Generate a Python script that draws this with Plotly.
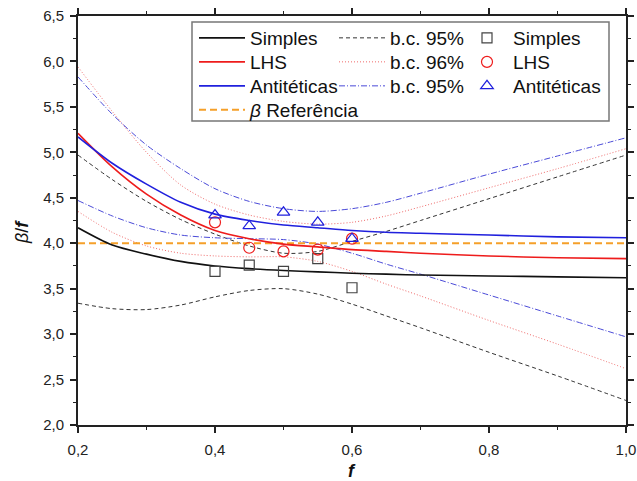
import plotly.graph_objects as go

# Abscissa grid for fitted curves and confidence bounds
F_CURVE = [0.2, 0.25, 0.3, 0.35, 0.4, 0.45, 0.5, 0.55, 0.6, 0.65, 0.7, 0.8, 0.9, 1.0]

# Fitted curves beta/f
SIMPLES_FIT = [4.17, 3.98, 3.88, 3.80, 3.75, 3.72, 3.70, 3.685, 3.67, 3.66, 3.65, 3.64, 3.63, 3.62]
LHS_FIT = [5.21, 4.84, 4.54, 4.31, 4.14, 4.05, 3.99, 3.96, 3.93, 3.91, 3.89, 3.86, 3.84, 3.83]
ANTI_FIT = [5.17, 4.88, 4.65, 4.45, 4.32, 4.25, 4.20, 4.17, 4.14, 4.12, 4.11, 4.09, 4.07, 4.06]

# Confidence bounds (upper / lower)
SIMPLES_UP = [4.97, 4.70, 4.46, 4.26, 4.10, 3.97, 3.89, 3.91, 4.02, 4.13, 4.25, 4.49, 4.73, 4.97]
SIMPLES_LO = [3.34, 3.28, 3.27, 3.32, 3.41, 3.48, 3.50, 3.44, 3.33, 3.20, 3.07, 2.80, 2.54, 2.27]
LHS_UP = [5.94, 5.45, 5.00, 4.64, 4.43, 4.31, 4.24, 4.21, 4.23, 4.30, 4.40, 4.61, 4.82, 5.04]
LHS_LO = [4.35, 4.12, 3.97, 3.89, 3.86, 3.85, 3.85, 3.80, 3.69, 3.55, 3.42, 3.15, 2.89, 2.62]
ANTI_UP = [5.83, 5.42, 5.08, 4.82, 4.60, 4.46, 4.38, 4.35, 4.38, 4.45, 4.55, 4.76, 4.96, 5.16]
ANTI_LO = [4.47, 4.30, 4.17, 4.09, 4.06, 4.05, 4.04, 3.99, 3.89, 3.77, 3.66, 3.43, 3.20, 2.97]

# Sampled points
F_PTS = [0.4, 0.45, 0.5, 0.55, 0.6]
SIMPLES_PTS = [3.69, 3.76, 3.69, 3.83, 3.51]
LHS_PTS = [4.23, 3.95, 3.91, 3.93, 4.05]
ANTI_PTS = [4.31, 4.19, 4.34, 4.23, 4.05]

# Reference value
BETA_REF = 4.0
F_RANGE = [0.2, 1.0]

BLACK = "#111111"
RED = "#ee1c1c"
BLUE = "#2020dd"
ORANGE = "#f5a02a"
FONT = "Liberation Sans"

W, H = 637, 481
M_L, M_R, M_T, M_B = 78, 11, 16, 56
PW, PH = W - M_L - M_R, H - M_T - M_B


def px_x(p):
    return (p - M_L) / PW


def px_y(p):
    return (H - M_B - p) / PH


# Legend grid: column left edges and row centres, in pixels
LEG_COLS = [194, 334, 461]
LEG_ROWS = [38, 62, 86, 110]
LEG_ITEM_W = [46, 46, 42]

fig = go.Figure()
legend_layout = {}
legend_font = dict(family=FONT, size=19, color="#111111")


def legend_slot(col, row):
    key = "legend" if (col, row) == (0, 0) else f"legend{col * 4 + row + 1}"
    legend_layout[key] = dict(
        x=px_x(LEG_COLS[col]), y=px_y(LEG_ROWS[row] - 19),
        xanchor="left", yanchor="top", orientation="v",
        bgcolor="rgba(0,0,0,0)", borderwidth=0,
        font=legend_font, itemwidth=LEG_ITEM_W[col],
    )
    return key


def band(up, lo):
    return F_CURVE + [None] + F_CURVE, up + [None] + lo


# Confidence bounds
for row, (up, lo, name, color, dash) in enumerate([
    (SIMPLES_UP, SIMPLES_LO, "b.c. 95%", "#333333", "4px,3px"),
    (LHS_UP, LHS_LO, "b.c. 96%", "#f06a6a", "1px,2px"),
    (ANTI_UP, ANTI_LO, "b.c. 95%", "#4a4ad8", "6px,2px,1px,2px"),
]):
    bx, by = band(up, lo)
    fig.add_trace(go.Scatter(
        x=bx, y=by, mode="lines", name=name, legend=legend_slot(1, row),
        line=dict(color=color, width=1, dash=dash, shape="spline", smoothing=0.8),
    ))

# Reference line
fig.add_trace(go.Scatter(
    x=F_RANGE, y=[BETA_REF, BETA_REF], mode="lines", name="<i>β</i> Referência",
    legend=legend_slot(0, 3),
    line=dict(color=ORANGE, width=2, dash="7px,4px"),
))

# Fitted curves
for row, (ys, name, color) in enumerate([
    (SIMPLES_FIT, "Simples", BLACK),
    (LHS_FIT, "LHS", RED),
    (ANTI_FIT, "Antitéticas", BLUE),
]):
    fig.add_trace(go.Scatter(
        x=F_CURVE, y=ys, mode="lines", name=name, legend=legend_slot(0, row),
        line=dict(color=color, width=1.6, shape="spline", smoothing=0.8),
    ))

# Sample points
for row, (ys, name, color, symbol, size) in enumerate([
    (SIMPLES_PTS, "Simples", "#444444", "square-open", 10),
    (LHS_PTS, "LHS", RED, "circle-open", 11),
    (ANTI_PTS, "Antitéticas", BLUE, "triangle-up-open", 11),
]):
    fig.add_trace(go.Scatter(
        x=F_PTS, y=ys, mode="markers", name=name, legend=legend_slot(2, row),
        marker=dict(symbol=symbol, size=size, color=color, line=dict(width=1.2, color=color)),
    ))

axis_common = dict(
    showline=True, linewidth=2, linecolor="#222222", mirror="ticks",
    ticks="outside", ticklen=6, tickwidth=1.5, tickcolor="#222222",
    showgrid=False, zeroline=False, automargin=False,
    tickfont=dict(family=FONT, size=15, color="#222222"),
)

fig.update_xaxes(
    range=F_RANGE, dtick=0.2, tick0=0.2, tickformat=".1f", ticklabelstandoff=4,
    minor=dict(dtick=0.1, ticks="outside", ticklen=3, tickwidth=1.2, tickcolor="#222222"),
    **axis_common,
)
fig.update_yaxes(
    range=[2.0, 6.5], dtick=0.5, tick0=2.0, tickformat=".1f", ticklabelstandoff=3,
    minor=dict(dtick=0.25, ticks="outside", ticklen=3, tickwidth=1.2, tickcolor="#222222"),
    **axis_common,
)

fig.update_layout(
    template="none",
    width=W, height=H,
    margin=dict(l=M_L, r=M_R, t=M_T, b=M_B),
    paper_bgcolor="white", plot_bgcolor="white",
    separators=", ",
    showlegend=True,
    shapes=[dict(
        type="rect", xref="paper", yref="paper",
        x0=px_x(192), x1=px_x(609), y0=px_y(121), y1=px_y(22),
        line=dict(color="#777777", width=1.5), fillcolor="white", layer="above",
    )],
    annotations=[
        dict(text="<i>β</i>/<b><i>f</i></b>", xref="paper", yref="paper",
             x=px_x(22), y=px_y(232), xanchor="center", yanchor="middle",
             textangle=-90, showarrow=False,
             font=dict(family=FONT, size=18, color="#111111")),
        dict(text="<b><i>f</i></b>", xref="paper", yref="paper",
             x=px_x(352), y=px_y(471), xanchor="center", yanchor="middle",
             showarrow=False,
             font=dict(family=FONT, size=18, color="#111111")),
    ],
    **legend_layout,
)

fig.write_html("out.html")
